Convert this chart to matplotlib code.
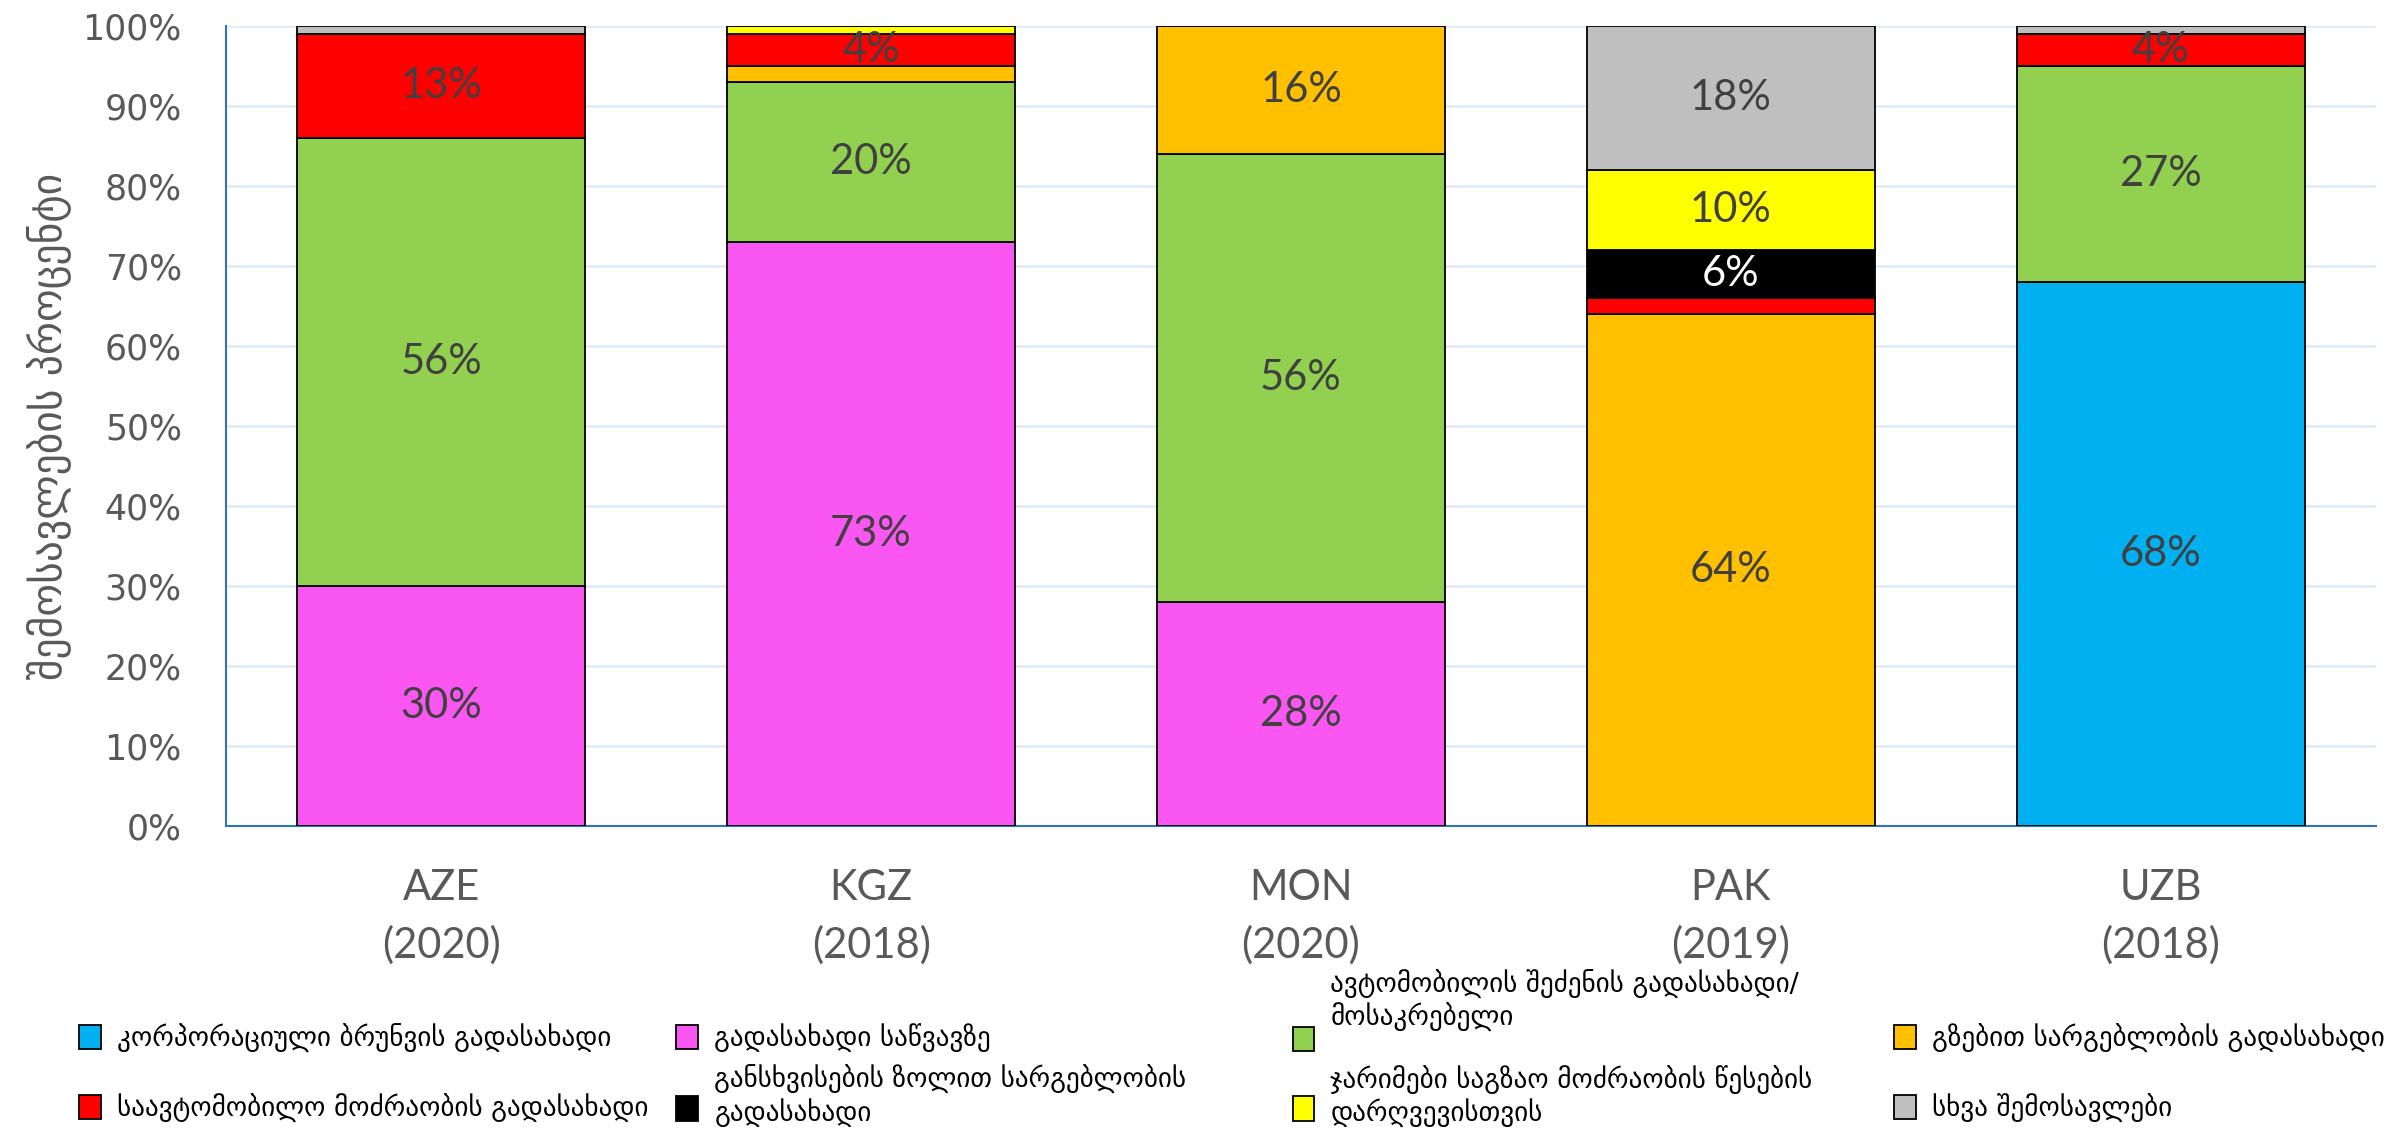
import numpy as np
import matplotlib
matplotlib.use('Agg')
import matplotlib.pyplot as plt
from matplotlib.ticker import PercentFormatter
from matplotlib.legend_handler import HandlerPatch
from matplotlib.patches import Rectangle

# data (percent of revenues)
countries = ['AZE\n(2020)', 'KGZ\n(2018)', 'MON\n(2020)', 'PAK\n(2019)', 'UZB\n(2018)']
series_names = [
    'კორპორაციული ბრუნვის გადასახადი',
    'გადასახადი საწვავზე',
    'ავტომობილის შეძენის გადასახადი/\nმოსაკრებელი',
    'გზებით სარგებლობის გადასახადი',
    'საავტომობილო მოძრაობის გადასახადი',
    'განსხვისების ზოლით სარგებლობის\nგადასახადი',
    'ჯარიმები საგზაო მოძრაობის წესების\nდარღვევისთვის',
    'სხვა შემოსავლები',
]
corporate_turnover = [0, 0, 0, 0, 68]
fuel_tax = [30, 73, 28, 0, 0]
vehicle_purchase = [56, 20, 56, 0, 27]
road_use = [0, 2, 16, 64, 0]
vehicle_traffic = [13, 4, 0, 2, 4]
strip_use = [0, 0, 0, 6, 0]
traffic_fines = [0, 1, 0, 10, 0]
other_revenue = [1, 0, 0, 18, 1]
y_label = 'შემოსავლების პროცენტი'

series = [corporate_turnover, fuel_tax, vehicle_purchase, road_use,
          vehicle_traffic, strip_use, traffic_fines, other_revenue]
colors = ['#00B0F0', '#FA57F2', '#92D050', '#FFC000',
          '#FF0000', '#000000', '#FFFF00', '#BFBFBF']

plt.rcParams['font.family'] = ['DejaVu Sans']

fig = plt.figure(figsize=(24.07, 11.33), dpi=100)
ax = fig.add_axes([0.094, 0.271, 0.893, 0.706])

x = np.arange(len(countries))
bottom = np.zeros(len(countries))
handles = []
for vals, col in zip(series, colors):
    vals = np.array(vals, dtype=float)
    bars = ax.bar(x, vals, 0.67, bottom=bottom, color=col,
                  edgecolor='black', linewidth=1.3, zorder=3)
    handles.append(bars.patches[0])
    for xi, v, b in zip(x, vals, bottom):
        if v >= 4:
            tc = 'white' if col == '#000000' else '#404040'
            ax.text(xi, b + v / 2, f'{int(v)}%', ha='center', va='center',
                    fontsize=30, color=tc, family=['Lato', 'DejaVu Sans'], zorder=4)
    bottom += vals

ax.set_xlim(-0.5, len(countries) - 0.5)
ax.set_ylim(0, 100)
ax.set_yticks(np.arange(0, 101, 10))
ax.yaxis.set_major_formatter(PercentFormatter(decimals=0))
ax.set_xticks(x)
ax.set_xticklabels(countries, family=['Lato', 'DejaVu Sans'], fontsize=30,
                   color='#595959', linespacing=1.56)
for lab in ax.get_yticklabels():
    lab.set_fontsize(25)
    lab.set_color('#595959')
ax.tick_params(axis='y', length=0, pad=32)
ax.tick_params(axis='x', length=0, pad=31)
ax.grid(axis='y', color='#DDEBF7', linewidth=1.8, zorder=0)
ax.set_axisbelow(True)
for s in ['top', 'right']:
    ax.spines[s].set_visible(False)
ax.spines['left'].set_color('#2E75B6')
ax.spines['bottom'].set_color('#2E75B6')
ax.spines['left'].set_linewidth(1.5)
ax.spines['bottom'].set_linewidth(1.5)

ax.set_ylabel(y_label, fontsize=30, color='#595959')
ax.yaxis.set_label_coords(-0.072, 0.5)


def shifted(dy):
    # legend key drawn dy points below the text centre
    def make(legend, orig_handle, xdescent, ydescent, width, height, fontsize):
        return Rectangle((-xdescent, -ydescent - dy), width, height)
    return HandlerPatch(patch_func=make)


# legend: 4 columns x 2 rows, one legend box per entry
col_x = [0.033, 0.281, 0.537, 0.787]
row_y = [0.0839, 0.022]
multi_y = {2: (0.1165, 27), 5: (0.0327, 8.6), 6: (0.0327, 8.6)}
for i, (h, name) in enumerate(zip(handles, series_names)):
    r = i // 4
    c = i % 4
    y, dy = multi_y.get(i, (row_y[r], 0))
    fig.legend([h], [name], loc='center left', bbox_to_anchor=(col_x[c], y),
               frameon=False, fontsize=19.5, handlelength=0.8, handleheight=1.0,
               handletextpad=0.6, borderpad=0, borderaxespad=0,
               handler_map={h: shifted(dy)})

fig.savefig('out.png', dpi=100)
